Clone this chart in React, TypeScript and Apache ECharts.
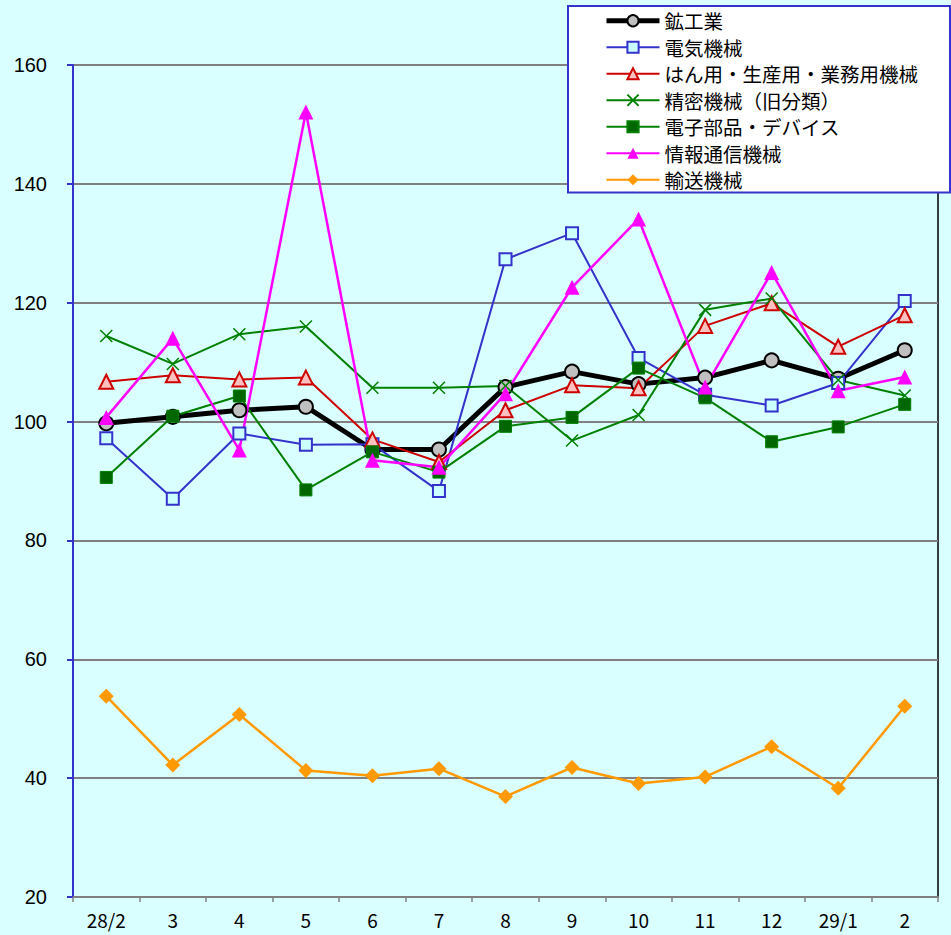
import React, { useEffect, useRef } from "react";
import * as echarts from "echarts";

const categories = ["28/2", "3", "4", "5", "6", "7", "8", "9", "10", "11", "12", "29/1", "2"];
const mining = [99.7, 100.8, 101.9, 102.5, 95.3, 95.3, 105.8, 108.4, 106.3, 107.4, 110.3, 107.2, 112.0];
const electrical = [97.2, 87.0, 98.0, 96.1, 96.2, 88.3, 127.3, 131.7, 110.7, 104.5, 102.7, 106.5, 120.3];
const generalMachinery = [106.7, 107.8, 107.1, 107.4, 97.0, 93.2, 101.9, 106.1, 105.6, 116.1, 119.9, 112.6, 117.9];
const precision = [114.4, 109.7, 114.7, 116.0, 105.7, 105.7, 106.0, 96.8, 101.1, 118.8, 120.7, 107.0, 104.4];
const electronicParts = [90.6, 100.9, 104.3, 88.5, 94.9, 91.5, 99.2, 100.7, 109.0, 104.0, 96.6, 99.1, 102.9];
const infoComm = [100.7, 114.0, 95.2, 152.1, 93.5, 92.3, 104.7, 122.6, 134.1, 105.8, 125.1, 105.2, 107.5];
const transport = [53.8, 42.2, 50.7, 41.3, 40.4, 41.6, 36.9, 41.8, 39.1, 40.2, 45.3, 38.3, 52.1];
const seriesNames = [
  "鉱工業",
  "電気機械",
  "はん用・生産用・業務用機械",
  "精密機械（旧分類）",
  "電子部品・デバイス",
  "情報通信機械",
  "輸送機械",
];
const yTicks = { min: 20, max: 160, interval: 20 };

const BG = "#DAFFFF";
const BLUE = "#3333CC";
const CJK = "'Noto Sans CJK JP', 'Noto Sans', sans-serif";

export default function App() {
  const ref = useRef<HTMLDivElement>(null);
  useEffect(() => {
    if (!ref.current) return;
    const chart = echarts.init(ref.current, undefined, { renderer: "svg" });
    const mk = (
      name: string,
      data: number[],
      color: string,
      lineWidth: number,
      symbol: string,
      symbolSize: number,
      fill: string,
      border: string,
      borderWidth: number
    ) => ({
      name,
      type: "line",
      data,
      symbol,
      symbolSize,
      showAllSymbol: true,
      lineStyle: { color, width: lineWidth },
      itemStyle: { color: fill, borderColor: border, borderWidth },
      emphasis: { disabled: true },
    });
    chart.setOption({
      animation: false,
      backgroundColor: BG,
      grid: {
        left: 73,
        right: 13,
        top: 65,
        bottom: 38,
        show: true,
        borderColor: "#000000",
        borderWidth: 1.5,
        backgroundColor: BG,
      },
      legend: {
        orient: "vertical",
        left: 568,
        top: 6,
        backgroundColor: "#FFFFFF",
        borderColor: BLUE,
        borderWidth: 2,
        borderRadius: 0,
        padding: [5, 32, 3, 36],
        itemWidth: 53,
        itemHeight: 14,
        itemGap: 7,
        textStyle: { fontFamily: CJK, fontSize: 19.5, color: "#000000" },
        data: seriesNames.map((n, i) =>
          i === 0 ? { name: n, lineStyle: { width: 5, color: "#000000" } } : { name: n }
        ),
      },
      xAxis: {
        type: "category",
        data: categories,
        boundaryGap: true,
        axisLine: { lineStyle: { color: "#808080", width: 2 } },
        axisTick: { show: true, alignWithLabel: false, length: 5, lineStyle: { color: "#808080", width: 1.5 } },
        axisLabel: { fontFamily: CJK, fontSize: 19, lineHeight: 20, color: "#000000", margin: 12, interval: 0 },
        splitLine: { show: false },
      },
      yAxis: {
        type: "value",
        min: yTicks.min,
        max: yTicks.max,
        interval: yTicks.interval,
        axisLine: { show: true, lineStyle: { color: BLUE, width: 2 } },
        axisTick: { show: true, length: 6, lineStyle: { color: BLUE, width: 2 } },
        axisLabel: { fontFamily: "'Liberation Sans', Arial, sans-serif", fontSize: 20, color: "#000000", margin: 26 },
        splitLine: { show: true, lineStyle: { color: "#808080", width: 2 } },
      },
      series: [
        mk(seriesNames[0], mining, "#000000", 5, "circle", 14, "#C0C0C0", "#000000", 2),
        mk(seriesNames[1], electrical, BLUE, 2, "rect", 12, "#CCFFFF", BLUE, 2),
        mk(seriesNames[2], generalMachinery, "#CC0000", 2, "triangle", 14, "#FFC0C0", "#CC0000", 2),
        mk(seriesNames[3], precision, "#008000", 2, "path://M0,0L10,10M10,0L0,10", 12, "#008000", "#008000", 1.5),
        mk(seriesNames[4], electronicParts, "#008000", 2, "rect", 12, "#006600", "#008000", 1),
        mk(seriesNames[5], infoComm, "#FF00FF", 2.5, "triangle", 15, "#FF00FF", "#FF00FF", 0),
        mk(seriesNames[6], transport, "#FF9900", 2.5, "diamond", 15, "#FF9900", "#FF9900", 0),
      ],
    });
    return () => chart.dispose();
  }, []);
  return (
    <div
      ref={ref}
      style={{ position: "fixed", left: 0, top: 0, width: 951, height: 935, background: BG }}
    />
  );
}
